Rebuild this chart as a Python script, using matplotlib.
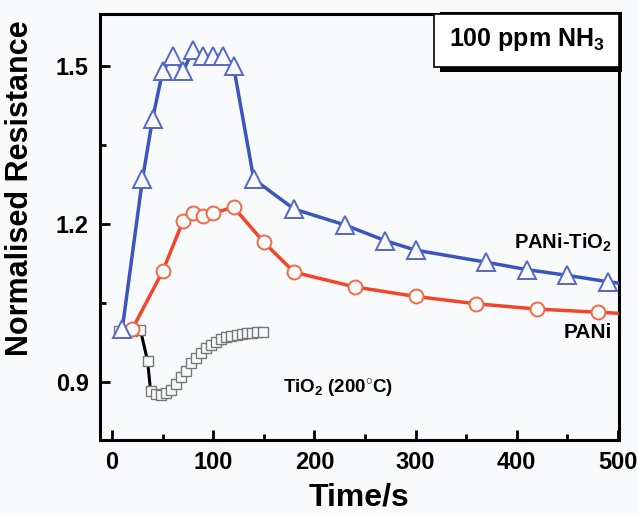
import matplotlib
matplotlib.use("Agg")
import matplotlib.pyplot as plt
from matplotlib.patches import Rectangle
from matplotlib.ticker import MultipleLocator

fam = "Liberation Sans"
plt.rcParams['font.family'] = [fam, 'DejaVu Sans']
plt.rcParams['font.weight'] = 'bold'
plt.rcParams['mathtext.fontset'] = 'custom'
plt.rcParams['mathtext.rm'] = fam + ':bold'
plt.rcParams['mathtext.bf'] = fam + ':bold'
plt.rcParams['mathtext.it'] = fam + ':bold'

# PANi-TiO2
t_comp = [10, 30, 40, 50, 60, 70, 80, 90, 100, 110, 120, 140, 180, 230, 270, 300, 370, 410, 450, 490, 530]
r_comp = [1.0, 1.285, 1.40, 1.49, 1.52, 1.49, 1.53, 1.52, 1.52, 1.52, 1.50, 1.285, 1.228, 1.198, 1.168, 1.150, 1.127, 1.113, 1.102, 1.090, 1.080]
# PANi
t_pani = [20, 50, 70, 80, 90, 100, 120, 150, 180, 240, 300, 360, 420, 480, 530]
r_pani = [1.0, 1.110, 1.205, 1.220, 1.215, 1.220, 1.232, 1.165, 1.108, 1.080, 1.062, 1.048, 1.038, 1.032, 1.027]
# TiO2 (200 C)
t_tio2 = [7, 14, 20, 28, 35, 38, 43, 48, 53, 58, 63, 68, 73, 78, 83, 88, 93, 98, 103, 108, 113, 118, 123, 128, 133, 138, 143, 149]
r_tio2 = [0.997, 0.997, 0.997, 0.998, 0.940, 0.883, 0.877, 0.874, 0.879, 0.885, 0.896, 0.909, 0.921, 0.935, 0.945, 0.954, 0.964, 0.970, 0.976, 0.981, 0.985, 0.987, 0.989, 0.991, 0.992, 0.992, 0.994, 0.994]

bg = '#f9fafc'
fig = plt.figure(figsize=(6.38, 5.15), dpi=100)
fig.patch.set_facecolor(bg)
ax = fig.add_axes([0.1567, 0.1456, 0.8135, 0.8272])
ax.set_facecolor(bg)

blue = '#3b55c0'
red = '#f2452c'
ax.plot(t_tio2, r_tio2, '-', color='black', lw=2.2, marker='s', ms=7, mfc=bg,
        mec='#777777', mew=1.0, zorder=3)
ax.plot(t_pani, r_pani, '-', color=red, lw=2.5, marker='o', ms=10, mfc=bg,
        mec='#f06a45', mew=1.4, zorder=4)
ax.plot(t_comp, r_comp, '-', color=blue, lw=2.5, marker='^', ms=13, mfc=bg,
        mec='#5468c8', mew=1.4, zorder=5)

ax.set_xlim(-12, 501)
ax.set_ylim(0.789, 1.599)
ax.xaxis.set_major_locator(MultipleLocator(100))
ax.xaxis.set_minor_locator(MultipleLocator(50))
ax.yaxis.set_minor_locator(MultipleLocator(0.15))
ax.set_yticks([0.9, 1.2, 1.5])
ax.set_yticklabels(['0.9', '1.2', '1.5'])
ax.tick_params(which='both', direction='in', width=2, top=False, right=False)
ax.tick_params(which='major', length=7, labelsize=17, pad=8)
ax.tick_params(which='minor', length=4)
for s in ax.spines.values():
    s.set_linewidth(2.2)

ax.set_xlabel('Time/s', fontsize=23, fontweight='bold', labelpad=6)
ax.set_ylabel('Normalised Resistance', fontsize=22, fontweight='bold')
ax.yaxis.set_label_coords(-0.125, 0.592)

# label box with shadow
ax.add_patch(Rectangle((0.655, 0.864), 0.35, 0.14, transform=ax.transAxes,
                       facecolor='black', edgecolor='black', lw=0, zorder=6, clip_on=False))
ax.add_patch(Rectangle((0.644, 0.876), 0.356, 0.124, transform=ax.transAxes,
                       facecolor='white', edgecolor='black', lw=1.2, zorder=7, clip_on=False))
ax.text(0.823, 0.939, r'100 ppm NH$_3$', transform=ax.transAxes, ha='center', va='center',
        fontsize=18, fontweight='bold', zorder=8)

ax.text(494, 1.163, r'PANi-TiO$_2$', ha='right', va='center', fontsize=14.5, fontweight='bold')
ax.text(494, 0.993, 'PANi', ha='right', va='center', fontsize=15, fontweight='bold')
ax.text(169, 0.886, r'TiO$_2$ (200$^{\circ}$C)', ha='left', va='center', fontsize=13.5, fontweight='bold')

fig.savefig('out.png', dpi=100, facecolor=fig.get_facecolor())
